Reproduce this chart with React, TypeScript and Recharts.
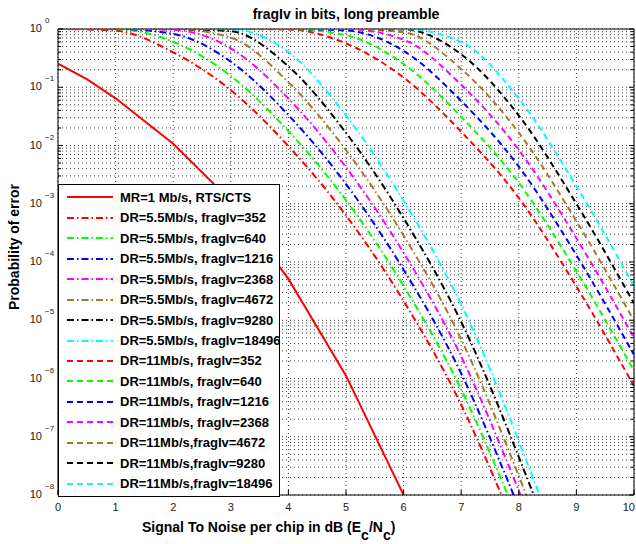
import { LineChart, Line, XAxis, YAxis, CartesianGrid, Legend } from 'recharts';

const FONT = '"Liberation Sans", Arial, Helvetica, sans-serif';
const PLOT_LEFT = 58;
const PLOT_RIGHT = 634;
const PLOT_TOP = 29;
const PLOT_BOTTOM = 495;

// axis ticks
const snrTicks = [0, 1, 2, 3, 4, 5, 6, 7, 8, 9, 10];
const decades = [0, -1, -2, -3, -4, -5, -6, -7, -8];
const minorSteps = [2, 3, 4, 5, 6, 7, 8, 9];

// MR = 1 Mb/s, RTS/CTS
const snrMR = [0, 0.5, 1, 2, 3, 4, 5, 6];
const peMR = [0.254, 0.138, 0.0646, 0.0107, 0.00112, 5.13e-5, 1.12e-6, 1e-8];

const fragSizes = [352, 640, 1216, 2368, 4672, 9280, 18496];
const colors = ['#ff0000', '#00ff00', '#0000ff', '#ff00ff', '#a8792b', '#000000', '#00ffff'];

// DR = 5.5 Mb/s
const snr55 = [0, 1, 2, 3, 4, 5, 6, 7];
const pe55_352 = [1, 0.933, 0.398, 0.0891, 0.00977, 6.31e-4, 2.14e-5, 3.55e-7];
const pe55_640 = [1, 0.9926, 0.603, 0.156, 0.0177, 1.15e-3, 3.89e-5, 6.46e-7];
const pe55_1216 = [1, 0.9999, 0.826, 0.275, 0.0333, 2.18e-3, 7.38e-5, 1.22e-6];
const pe55_2368 = [1, 1, 0.967, 0.466, 0.064, 4.24e-3, 1.44e-4, 2.39e-6];
const pe55_4672 = [1, 1, 0.9988, 0.71, 0.122, 8.34e-3, 2.84e-4, 4.71e-6];
const pe55_9280 = [1, 1, 1, 0.915, 0.228, 0.0165, 5.64e-4, 9.35e-6];
const pe55_18496 = [1, 1, 1, 0.9926, 0.4025, 0.0326, 1.12e-3, 1.86e-5];
// SNR where each 5.5 Mb/s curve reaches 1e-8
const end55 = [7.7, 7.81, 7.91, 8.03, 8.13, 8.26, 8.36];

// DR = 11 Mb/s
const snr11 = [0, 1, 2, 3, 4, 5, 6, 7, 8, 9, 10];
const pe11_352 = [1, 1, 1, 1, 0.981, 0.565, 0.1466, 0.01723, 1.26e-3, 3.8e-5, 7.41e-7];
const pe11_640 = [1, 1, 1, 1, 0.9993, 0.78, 0.2505, 0.0311, 2.29e-3, 6.92e-5, 1.35e-6];
const pe11_1216 = [1, 1, 1, 1, 1, 0.943, 0.421, 0.0582, 4.34e-3, 1.31e-4, 2.56e-6];
const pe11_2368 = [1, 1, 1, 1, 1, 0.9963, 0.656, 0.1104, 8.43e-3, 2.56e-4, 4.99e-6];
const pe11_4672 = [1, 1, 1, 1, 1, 1, 0.8775, 0.206, 0.01656, 5.05e-4, 9.84e-6];
const pe11_9280 = [1, 1, 1, 1, 1, 1, 0.9847, 0.3675, 0.0327, 1.0e-3, 1.95e-5];
const pe11_18496 = [1, 1, 1, 1, 1, 1, 0.9998, 0.598, 0.064, 2.0e-3, 3.89e-5];

const pe55 = [pe55_352, pe55_640, pe55_1216, pe55_2368, pe55_4672, pe55_9280, pe55_18496];
const pe11 = [pe11_352, pe11_640, pe11_1216, pe11_2368, pe11_4672, pe11_9280, pe11_18496];

const DASH_DOT = '7 3 1.5 3';
const DASHED = '6 4';

const peTicks = [
  ...decades.map((e) => Math.pow(10, e)),
  ...decades.slice(1).flatMap((e) => minorSteps.map((m) => m * Math.pow(10, e))),
].sort((a, b) => a - b);

const mrSeries = {
  name: 'MR=1 Mb/s, RTS/CTS',
  color: '#ff0000',
  dash: undefined as string | undefined,
  data: snrMR.map((x, i) => ({ x, pe: peMR[i] })),
};

const series55 = fragSizes.map((f, k) => ({
  name: `DR=5.5Mb/s, fragIv=${f}`,
  color: colors[k],
  dash: DASH_DOT as string | undefined,
  data: [...snr55.map((x, i) => ({ x, pe: pe55[k][i] })), { x: end55[k], pe: 1e-8 }],
}));

const series11 = fragSizes.map((f, k) => ({
  name: k < 4 ? `DR=11Mb/s, fragIv=${f}` : `DR=11Mb/s,fragIv=${f}`,
  color: colors[k],
  dash: DASHED as string | undefined,
  data: snr11.map((x, i) => ({ x, pe: pe11[k][i] })),
}));

const allSeries = [mrSeries, ...series55, ...series11];

const isDecade = (v: number) => Math.abs(Math.log10(v) - Math.round(Math.log10(v))) < 1e-6;

const LeftTick = (props: any) => {
  const { y, payload } = props;
  const v = payload.value;
  if (!isDecade(v)) {
    return <line x1={PLOT_LEFT} x2={PLOT_LEFT + 3} y1={y} y2={y} stroke="#000" />;
  }
  const e = Math.round(Math.log10(v));
  return (
    <g>
      <line x1={PLOT_LEFT} x2={PLOT_LEFT + 5} y1={y} y2={y} stroke="#000" />
      <text x={42} y={y + 3} textAnchor="end" fontSize={11} fill="#222" fontFamily={FONT}>
        10
      </text>
      <text x={45} y={y - 6} fontSize={8} fill="#222" fontFamily={FONT}>
        {e === 0 ? '0' : `\u2212${-e}`}
      </text>
    </g>
  );
};

const RightTick = (props: any) => {
  const { y, payload } = props;
  const len = isDecade(payload.value) ? 5 : 3;
  return <line x1={PLOT_RIGHT - len} x2={PLOT_RIGHT} y1={y} y2={y} stroke="#000" />;
};

const BottomTick = (props: any) => {
  const { x, payload } = props;
  const last = payload.value === snrTicks[snrTicks.length - 1];
  return (
    <g>
      <line x1={x} x2={x} y1={PLOT_BOTTOM} y2={PLOT_BOTTOM - 5} stroke="#000" />
      <text
        x={last ? 635 : x}
        y={PLOT_BOTTOM + 16}
        textAnchor={last ? 'end' : 'middle'}
        fontSize={11}
        fill="#222"
        fontFamily={FONT}
      >
        {payload.value}
      </text>
    </g>
  );
};

const TopTick = (props: any) => {
  const { x } = props;
  return <line x1={x} x2={x} y1={PLOT_TOP} y2={PLOT_TOP + 5} stroke="#000" />;
};

const TitleLabel = () => (
  <text x={346} y={19} textAnchor="middle" fontFamily={FONT} fontWeight="bold" fontSize={14} fill="#000">
    fragIv in bits, long preamble
  </text>
);

const XLabel = () => (
  <text x={142} y={532} fontFamily={FONT} fontWeight="bold" fontSize={14} fill="#000">
    Signal To Noise per chip in dB (E
    <tspan dy={8}>c</tspan>
    <tspan dy={-8}>/N</tspan>
    <tspan dy={8}>c</tspan>
    <tspan dy={-8}>)</tspan>
  </text>
);

const YLabel = () => (
  <text
    x={19}
    y={247}
    transform="rotate(-90, 19, 247)"
    textAnchor="middle"
    fontFamily={FONT}
    fontWeight="bold"
    fontSize={14}
    fill="#000"
  >
    Probability of error
  </text>
);

const LegendBox = () => (
  <div
    style={{
      width: 222,
      height: 313,
      border: '1px solid #000',
      boxSizing: 'border-box',
      background: '#fff',
      paddingTop: 2,
      fontFamily: FONT,
      fontWeight: 'bold',
      fontSize: 13,
      color: '#000',
    }}
  >
    {allSeries.map((s, i) => (
      <div key={`leg-${i}`} style={{ height: 20.47, display: 'flex', alignItems: 'center', whiteSpace: 'nowrap' }}>
        <svg width={46} height={6} style={{ marginLeft: 8, flexShrink: 0 }}>
          <line x1={0} y1={3} x2={46} y2={3} stroke={s.color} strokeWidth={2} strokeDasharray={s.dash} />
        </svg>
        <span style={{ marginLeft: 7 }}>{s.name}</span>
      </div>
    ))}
  </div>
);

export default function App() {
  return (
    <div style={{ position: 'absolute', left: 0, top: 0, background: '#fff' }}>
      <LineChart width={636} height={544} margin={{ top: 28, right: 1, bottom: 19, left: 0 }} style={{ fontFamily: FONT }}>
        <CartesianGrid stroke="#000" strokeDasharray="1 3" strokeWidth={1} strokeOpacity={0.75} />
        <XAxis
          dataKey="x"
          type="number"
          domain={[0, 10]}
          ticks={snrTicks}
          allowDataOverflow
          height={30}
          interval={0}
          stroke="#000"
          tickLine={false}
          tick={<BottomTick />}
          label={<XLabel />}
        />
        <XAxis
          xAxisId="top"
          orientation="top"
          dataKey="x"
          type="number"
          domain={[0, 10]}
          ticks={snrTicks}
          height={1}
          interval={0}
          stroke="#000"
          tickLine={false}
          tick={<TopTick />}
          label={<TitleLabel />}
        />
        <YAxis
          type="number"
          scale="log"
          domain={[1e-8, 1]}
          ticks={peTicks}
          allowDataOverflow
          width={58}
          interval={0}
          stroke="#000"
          tickLine={false}
          tick={<LeftTick />}
          label={<YLabel />}
        />
        <YAxis
          yAxisId="right"
          orientation="right"
          type="number"
          scale="log"
          domain={[1e-8, 1]}
          ticks={peTicks}
          allowDataOverflow
          width={1}
          interval={0}
          stroke="#000"
          tickLine={false}
          tick={<RightTick />}
        />
        <Legend
          layout="vertical"
          align="center"
          verticalAlign="middle"
          wrapperStyle={{ left: 58, top: 184, width: 222, height: 313 }}
          content={() => <LegendBox />}
        />
        {allSeries.map((s, i) => (
          <Line
            key={s.name}
            data={s.data}
            dataKey="pe"
            name={s.name}
            type={i === 0 ? 'linear' : 'monotone'}
            stroke={s.color}
            strokeWidth={2}
            strokeDasharray={s.dash}
            dot={false}
            activeDot={false}
            isAnimationActive={false}
          />
        ))}
      </LineChart>
    </div>
  );
}
